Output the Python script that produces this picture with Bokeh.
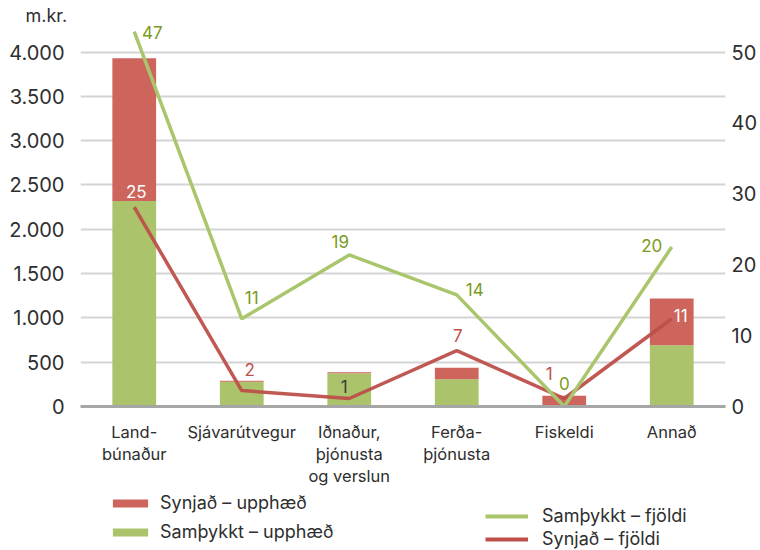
from bokeh.plotting import figure
from bokeh.layouts import column
from bokeh.models import (FactorRange, Range1d, LinearAxis, Legend, LegendItem,
                          ColumnDataSource, FixedTicker)
from bokeh.embed import file_html
from bokeh.resources import INLINE
from bokeh.core.properties import value

# ---------------- data ----------------
categories = ["Land-\nbúnaður", "Sjávarútvegur", "Iðnaður,\nþjónusta\nog verslun",
              "Ferða-\nþjónusta", "Fiskeldi", "Annað"]
samthykkt_upphaed = [2320, 280, 375, 307, 0, 690]      # m.kr.
synjad_upphaed = [1610, 10, 12, 130, 120, 530]         # m.kr.
samthykkt_fjoldi = [47, 11, 19, 14, 0, 20]
synjad_fjoldi = [25, 2, 1, 7, 1, 11]

left_ticks = [0, 500, 1000, 1500, 2000, 2500, 3000, 3500, 4000]
left_tick_labels = ["0", "500", "1.000", "1.500", "2.000", "2.500", "3.000", "3.500", "4.000"]
right_ticks = [0, 10, 20, 30, 40, 50]

# ---------------- styling ----------------
FONT = "Inter"
TXT = "#2e2e2e"
GREEN_BAR = "#abc36b"
RED_BAR = "#cd655d"
GREEN_LINE = "#a9c66c"
RED_LINE = "#bd4f4a"
GREEN_LBL = "#7a9a20"
RED_LBL = "#c0504d"

TOP = 24                   # frame top (px)
head = 360 / (412 - TOP)   # fraction of frame height up to the top gridline
left_max = 4000 / head
count_max = 50 / head
lines_max = (4000 / 90) / head

green_lbl_dx = [18, 10, -9, 18, 0, -20]
green_lbl_dy = [1, -21, -13, -5, -23, -2]
red_lbl_dx = [2, 8, -5, 1, -15, 9]
red_lbl_dy = [-16, -21, -12, -15, -25, -3]
red_lbl_colors = ["white", RED_LBL, "#3a3a3a", RED_LBL, RED_LBL, "white"]

p = figure(x_range=FactorRange(*categories, range_padding=0),
           y_range=Range1d(0, left_max),
           width=760, height=488, output_backend="svg", toolbar_location=None,
           min_border_left=80, min_border_right=32, min_border_top=TOP,
           min_border_bottom=76, title="m.kr.")
p.outline_line_color = None
p.background_fill_color = "white"
p.border_fill_color = "white"
p.title.align = "left"
p.title.offset = -55
p.title.standoff = -3
p.title.text_font = FONT
p.title.text_font_size = "18px"
p.title.text_font_style = "normal"
p.title.text_color = TXT

p.extra_y_ranges = {"count": Range1d(0, count_max), "lines": Range1d(0, lines_max)}

src = ColumnDataSource(dict(cat=categories, s=samthykkt_upphaed, r=synjad_upphaed,
                            sf=samthykkt_fjoldi, rf=synjad_fjoldi,
                            sf_txt=[str(v) for v in samthykkt_fjoldi],
                            rf_txt=[str(v) for v in synjad_fjoldi],
                            gdx=green_lbl_dx, gdy=green_lbl_dy,
                            rdx=red_lbl_dx, rdy=red_lbl_dy, rcol=red_lbl_colors))

bars = p.vbar_stack(["s", "r"], x="cat", width=0.407, source=src,
                    color=[GREEN_BAR, RED_BAR], line_color=None)

red_line = p.line(x="cat", y="rf", source=src, y_range_name="lines",
                  line_color=RED_LINE, line_width=3.5, line_alpha=0.95)
green_line = p.line(x="cat", y="sf", source=src, y_range_name="lines",
                    line_color=GREEN_LINE, line_width=3.5)

p.text(x="cat", y="sf", text="sf_txt", source=src, y_range_name="lines",
       x_offset="gdx", y_offset="gdy", text_align="center", text_baseline="middle",
       text_font=value(FONT), text_font_size="17px", text_color=GREEN_LBL)
p.text(x="cat", y="rf", text="rf_txt", source=src, y_range_name="lines",
       x_offset="rdx", y_offset="rdy", text_align="center", text_baseline="middle",
       text_font=value(FONT), text_font_size="17px", text_color="rcol")

# ---------------- axes ----------------
def plain(ax):
    ax.axis_line_color = None
    ax.major_tick_line_color = None
    ax.minor_tick_line_color = None
    ax.major_tick_out = 0
    ax.major_tick_in = 0
    ax.minor_tick_out = 0
    ax.minor_tick_in = 0

p.yaxis.ticker = FixedTicker(ticks=left_ticks)
p.yaxis.major_label_overrides = dict(zip(left_ticks, left_tick_labels))
plain(p.yaxis[0])
p.yaxis.major_label_standoff = 16
p.yaxis.major_label_text_font = FONT
p.yaxis.major_label_text_font_size = "20px"
p.yaxis.major_label_text_color = TXT

right_axis = LinearAxis(y_range_name="count", ticker=FixedTicker(ticks=right_ticks))
plain(right_axis)
right_axis.major_label_standoff = 6
right_axis.major_label_text_font = FONT
right_axis.major_label_text_font_size = "20px"
right_axis.major_label_text_color = TXT
p.add_layout(right_axis, "right")

plain(p.xaxis[0])
p.xaxis.axis_line_color = "#a6a6a6"
p.xaxis.axis_line_width = 3
p.xaxis.major_label_standoff = 15
p.xaxis.major_label_text_font = FONT
p.xaxis.major_label_text_font_size = "16.5px"
p.xaxis.major_label_text_color = TXT
p.xaxis.major_label_text_line_height = 1.1

p.xgrid.grid_line_color = None
p.ygrid.grid_line_color = "#d4d4d4"
p.ygrid.grid_line_width = 2

# ---------------- legend strip ----------------
lg = figure(width=760, height=62, x_range=Range1d(0, 1), y_range=Range1d(0, 1),
            x_axis_type=None, y_axis_type=None, output_backend="svg",
            toolbar_location=None, min_border=0)
lg.outline_line_color = None
lg.grid.visible = False

# legend keys only: one point each, placed outside the visible range
off = ColumnDataSource(dict(x=[-10, -9], y=[-10, -10]))
k_red_bar = lg.vbar(x="x", top="y", width=0.1, source=off, color=RED_BAR, line_color=None)
k_green_bar = lg.vbar(x="x", top="y", width=0.1, source=off, color=GREEN_BAR, line_color=None)
k_green_line = lg.line(x="x", y="y", source=off, line_color=GREEN_LINE, line_width=4)
k_red_line = lg.line(x="x", y="y", source=off, line_color=RED_LINE, line_width=4)

leg_bars = Legend(items=[LegendItem(label="Synjað – upphæð", renderers=[k_red_bar]),
                         LegendItem(label="Samþykkt – upphæð", renderers=[k_green_bar])],
                  location=(28, 8), orientation="vertical",
                  glyph_width=44, glyph_height=10, label_height=20, spacing=8,
                  label_standoff=8, padding=0, margin=0,
                  border_line_color=None, background_fill_alpha=0,
                  label_text_font=FONT, label_text_font_size="18px",
                  label_text_color=TXT)
leg_lines = Legend(items=[LegendItem(label="Samþykkt – fjöldi", renderers=[k_green_line]),
                          LegendItem(label="Synjað – fjöldi", renderers=[k_red_line])],
                   location=(405, 1), orientation="vertical",
                   glyph_width=43, glyph_height=18, label_height=18, spacing=2,
                   label_standoff=14, padding=0, margin=0,
                   border_line_color=None, background_fill_alpha=0,
                   label_text_font=FONT, label_text_font_size="18px",
                   label_text_color=TXT)
lg.add_layout(leg_bars, "center")
lg.add_layout(leg_lines, "center")

layout = column(p, lg, spacing=0)
open("out.html", "w").write(file_html(layout, INLINE))
